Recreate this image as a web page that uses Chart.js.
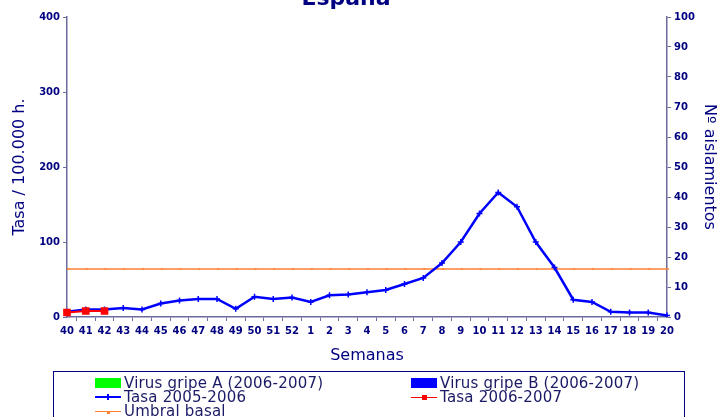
<!DOCTYPE html>
<html lang="es">
<head>
    <meta charset="UTF-8">
    <title>Tasa de incidencia de gripe - España</title>
    <script src="https://cdn.jsdelivr.net/npm/chart.js"></script>
    <style>
        body {
            margin: 0;
            background: white;
            font-family: "DejaVu Sans", sans-serif;
        }

        .wrap {
            position: relative;
            width: 719px;
            height: 417px;
            overflow: hidden;
        }

        .legend {
            position: absolute;
            left: 53px;
            top: 371px;
            width: 630px;
            height: 60px;
            border: 1px solid #000080;
            font-family: "DejaVu Sans", sans-serif;
            font-size: 15px;
            letter-spacing: 0.2px;
            color: #1a1a66;
        }

        .item {
            position: absolute;
            display: flex;
            align-items: center;
            height: 14px;
            white-space: nowrap;
        }

        .sw {
            width: 26px;
            height: 10px;
            margin-right: 3px;
        }

        .ln {
            position: relative;
            width: 26px;
            height: 2px;
            margin-right: 3px;
        }

        .ln span {
            position: absolute;
            left: 11px;
            top: -2px;
            width: 5px;
            height: 5px;
        }
    </style>
</head>
<body>
    <div class="wrap">
        <canvas id="grafico" width="719" height="417"></canvas>
        <div class="legend">
            <div class="item" style="left:41px; top:4px;"><div class="sw" style="background:#00ff00"></div>Virus gripe A (2006-2007)</div>
            <div class="item" style="left:357px; top:4px;"><div class="sw" style="background:#0000ff"></div>Virus gripe B (2006-2007)</div>
            <div class="item" style="left:41px; top:18px;"><div class="ln" style="background:#0000ff"><span style="left:12px;width:2px;top:-2px;height:6px;background:#0000ff"></span></div>Tasa 2005-2006</div>
            <div class="item" style="left:357px; top:18px;"><div class="ln" style="background:#ff0000;height:1px"><span style="background:#ff0000"></span></div>Tasa 2006-2007</div>
            <div class="item" style="left:41px; top:32px;"><div class="ln" style="background:#ff8033;height:1px"><span style="left:12px;width:3px;height:2px;top:1px;background:#ff8033"></span></div>Umbral basal</div>
        </div>
    </div>

    <script>
        // semanas epidemiologicas 40 a 52 y 1 a 20
        const semanas = ["40", "41", "42", "43", "44", "45", "46", "47", "48", "49", "50", "51", "52",
            "1", "2", "3", "4", "5", "6", "7", "8", "9", "10", "11", "12", "13", "14", "15", "16", "17", "18", "19", "20"];

        const tasa0506 = [7, 10, 10, 12, 10, 18, 22, 24, 24, 11, 27, 24, 26,
            20, 29, 30, 33, 36, 44, 52, 72, 100, 138, 166, 147, 100, 66, 23, 20, 7, 6, 6, 2];

        const tasa0607 = [6, 8, 8];

        const umbral = [64, 64, 64, 64, 64, 64, 64, 64, 64, 64, 64, 64, 64,
            64, 64, 64, 64, 64, 64, 64, 64, 64, 64, 64, 64, 64, 64, 64, 64, 64, 64, 64, 64];

        // aislamientos (aun sin datos)
        const virusA = [];
        const virusB = [];

        const navy = "#000080";
        const axisColor = "#6b6b9e";
        const tickFont = { family: "DejaVu Sans", size: 10, weight: "bold" };
        const titleFont = { family: "DejaVu Sans", size: 16 };

        const tituloCortado = {
            id: "tituloCortado",
            afterDraw(chart) {
                const c = chart.ctx;
                c.save();
                c.font = "bold 22px 'DejaVu Sans'";
                c.fillStyle = navy;
                c.textAlign = "center";
                c.textBaseline = "alphabetic";
                c.fillText("España", 346, 5);
                c.restore();
            }
        };

        const ctx = document.getElementById("grafico").getContext("2d");

        new Chart(ctx, {
            data: {
                labels: semanas,
                datasets: [
                    {
                        type: "bar",
                        label: "Virus gripe A (2006-2007)",
                        data: virusA,
                        backgroundColor: "#00ff00",
                        yAxisID: "y2",
                        stack: "virus",
                        order: 4
                    },
                    {
                        type: "bar",
                        label: "Virus gripe B (2006-2007)",
                        data: virusB,
                        backgroundColor: "#0000ff",
                        yAxisID: "y2",
                        stack: "virus",
                        order: 3
                    },
                    {
                        type: "line",
                        label: "Umbral basal",
                        data: umbral,
                        borderColor: "#ff8033",
                        borderWidth: 1.5,
                        pointStyle: "dash",
                        pointRadius: 2,
                        pointBorderColor: "#ff8033",
                        pointBackgroundColor: "#ff8033",
                        yAxisID: "y",
                        order: 2
                    },
                    {
                        type: "line",
                        label: "Tasa 2005-2006",
                        data: tasa0506,
                        borderColor: "#0000ff",
                        borderWidth: 2.5,
                        pointStyle: "cross",
                        pointRadius: 3,
                        pointBorderWidth: 1.5,
                        pointBorderColor: "#0000ff",
                        tension: 0,
                        yAxisID: "y",
                        order: 1
                    },
                    {
                        type: "line",
                        label: "Tasa 2006-2007",
                        data: tasa0607,
                        borderColor: "#ff0000",
                        borderWidth: 2,
                        pointStyle: "rect",
                        pointRadius: 4,
                        pointBackgroundColor: "#ff0000",
                        pointBorderColor: "#ff0000",
                        yAxisID: "y",
                        order: 0
                    }
                ]
            },
            options: {
                responsive: false,
                animation: false,
                layout: { padding: { top: 17, bottom: 50, left: 0, right: 0 } },
                plugins: {
                    legend: { display: false },
                    tooltip: { enabled: false }
                },
                scales: {
                    x: {
                        offset: false,
                        afterFit: (s) => { s.height = 50; },
                        grid: { drawOnChartArea: false, tickLength: 4, color: axisColor },
                        border: { color: axisColor, width: 1.5 },
                        ticks: { autoSkip: false, maxRotation: 0, color: navy, font: tickFont, padding: 4 },
                        title: { display: true, text: "Semanas", color: navy, font: titleFont, padding: { top: 2, bottom: 2 } }
                    },
                    y: {
                        position: "left",
                        min: 0,
                        max: 400,
                        afterFit: (s) => { s.width = 67; },
                        grid: { drawOnChartArea: false, tickLength: 4, color: axisColor },
                        border: { color: axisColor, width: 1.5 },
                        ticks: { stepSize: 100, color: navy, font: tickFont, padding: 3 },
                        title: { display: true, text: "Tasa / 100.000 h.", color: navy, font: titleFont, padding: { top: 10, bottom: 0 } }
                    },
                    y2: {
                        position: "right",
                        min: 0,
                        max: 100,
                        afterFit: (s) => { s.width = 52; },
                        grid: { drawOnChartArea: false, tickLength: 4, color: axisColor },
                        border: { color: axisColor, width: 1.5 },
                        ticks: { stepSize: 10, color: navy, font: tickFont, padding: 3 },
                        title: { display: true, text: "Nº aislamientos", color: navy, font: titleFont, padding: { top: 0, bottom: 0 } }
                    }
                }
            },
            plugins: [tituloCortado]
        });
    </script>
</body>
</html>
